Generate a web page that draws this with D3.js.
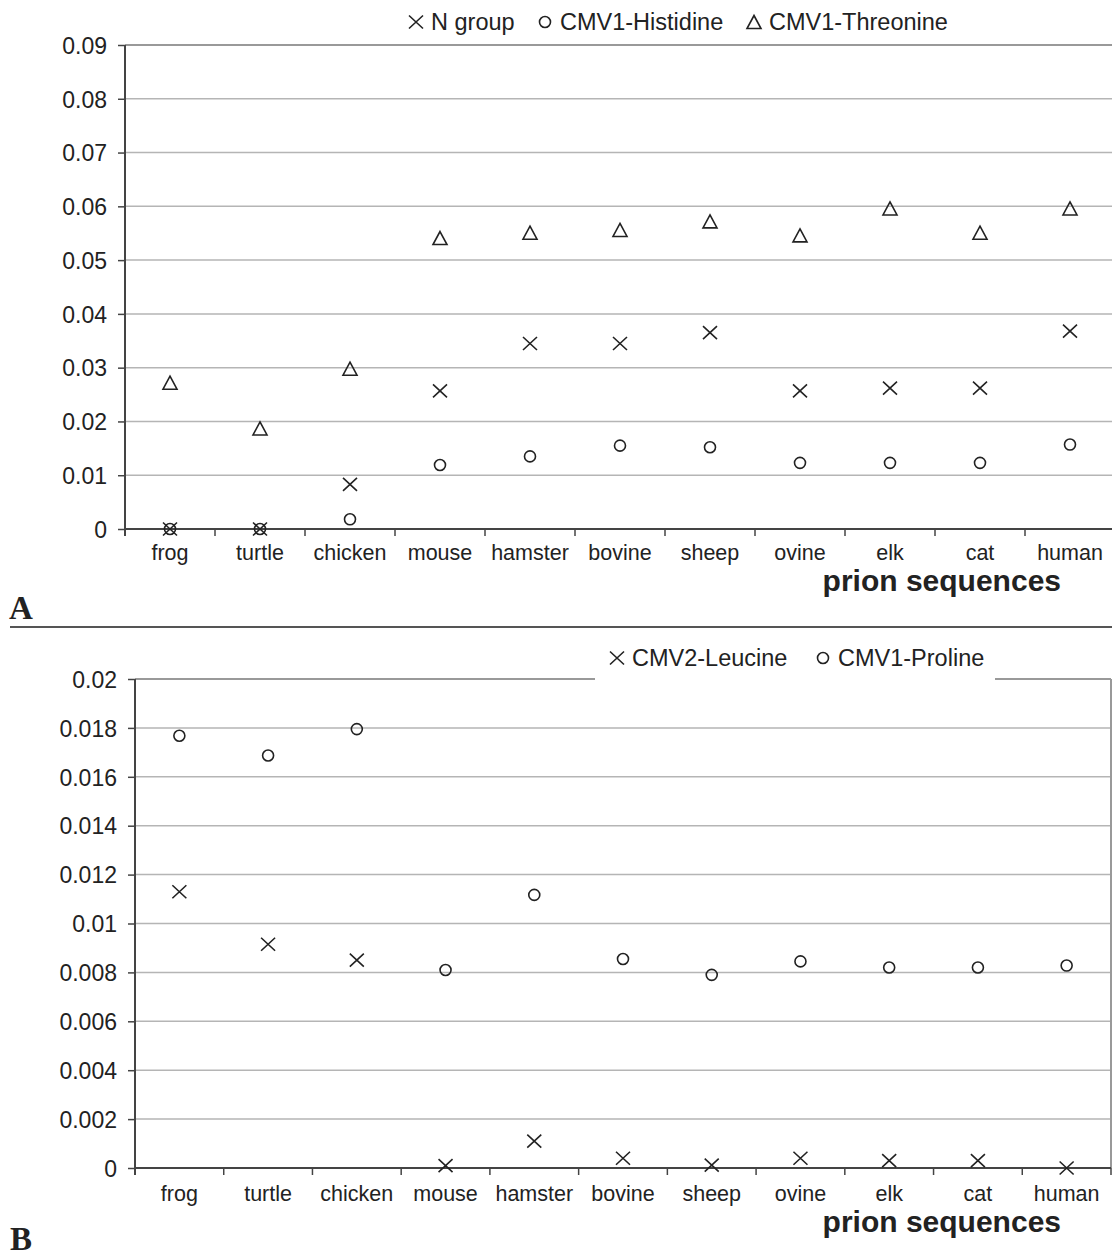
<!DOCTYPE html>
<html>
<head>
<meta charset="utf-8">
<script src="https://cdn.jsdelivr.net/npm/d3@7"></script>
<style>
  body { margin: 0; background: #fff; }
  svg { display: block; font-family: "Liberation Sans", Arial, sans-serif; }
</style>
</head>
<body>
<div id="chart"></div>
<script>
// categories shared by both panels
const species = ["frog", "turtle", "chicken", "mouse", "hamster", "bovine", "sheep", "ovine", "elk", "cat", "human"];

// panel A
const nGroup      = [0, 0, 0.0083, 0.0257, 0.0345, 0.0345, 0.0365, 0.0257, 0.0262, 0.0262, 0.0368];
const cmv1His     = [0, 0, 0.0018, 0.0119, 0.0135, 0.0155, 0.0152, 0.0123, 0.0123, 0.0123, 0.0157];
const cmv1Thr     = [0.0272, 0.0187, 0.0298, 0.0541, 0.0551, 0.0556, 0.0572, 0.0546, 0.0596, 0.0551, 0.0596];
const yTicksA     = [0, 0.01, 0.02, 0.03, 0.04, 0.05, 0.06, 0.07, 0.08, 0.09];

// panel B
const cmv2Leu     = [0.0113, 0.00915, 0.0085, 0.0001, 0.0011, 0.0004, 0.00012, 0.0004, 0.0003, 0.0003, 0];
const cmv1Pro     = [0.01768, 0.01687, 0.01795, 0.0081, 0.01117, 0.00855, 0.0079, 0.00845, 0.0082, 0.0082, 0.00828];
const yTicksB     = [0, 0.002, 0.004, 0.006, 0.008, 0.01, 0.012, 0.014, 0.016, 0.018, 0.02];

const W = 1112, H = 1258;
const ink = "#222";

const svg = d3.select("#chart").append("svg")
  .attr("width", W).attr("height", H);

// marker paths
const shapes = {
  cross: "M-7,-6.5L7,6.5M-7,6.5L7,-6.5",
  circle: d3.symbol(d3.symbolCircle, Math.PI * 5.5 * 5.5)(),
  triangle: "M0,-6.5L7,6.5L-7,6.5Z"
};

function drawPanel(opt) {
  const g = svg.append("g");
  const x = d3.scaleBand().domain(species).range([opt.left, opt.right]);
  const y = d3.scaleLinear().domain([0, opt.max]).range([opt.bottom, opt.top]);

  // gridlines
  g.selectAll("line.grid")
    .data(opt.ticks.filter(t => t > 0))
    .join("line")
      .attr("x1", opt.left).attr("x2", opt.right)
      .attr("y1", d => y(d)).attr("y2", d => y(d))
      .attr("stroke", d => d === opt.max ? "#999" : "#b5b5b5")
      .attr("stroke-width", d => d === opt.max ? 2 : 1.5);

  // right border
  g.append("line")
    .attr("x1", opt.right).attr("x2", opt.right)
    .attr("y1", opt.top).attr("y2", opt.bottom)
    .attr("stroke", "#999").attr("stroke-width", 2);

  // y axis
  const yAxis = g.append("g")
    .attr("transform", `translate(${opt.left},0)`)
    .call(d3.axisLeft(y).tickValues(opt.ticks).tickSize(7).tickPadding(11)
      .tickFormat(d => d === 0 ? "0" : d3.format(opt.fmt)(d)));
  yAxis.select(".domain").remove();
  yAxis.selectAll(".tick line").attr("stroke", "#444").attr("stroke-width", 1.5);
  yAxis.selectAll("text").attr("fill", ink).style("font-size", "23px").attr("dy", "0.36em");
  g.append("line")
    .attr("x1", opt.left).attr("x2", opt.left)
    .attr("y1", opt.top).attr("y2", opt.bottom + 7)
    .attr("stroke", "#444").attr("stroke-width", 2);

  // x axis
  const bounds = species.map(s => x(s)).concat([opt.right]);
  g.selectAll("line.xt")
    .data(bounds)
    .join("line")
      .attr("x1", d => d).attr("x2", d => d)
      .attr("y1", opt.bottom).attr("y2", opt.bottom + 7)
      .attr("stroke", "#444").attr("stroke-width", 1.5);
  g.append("line")
    .attr("x1", opt.left).attr("x2", opt.right)
    .attr("y1", opt.bottom).attr("y2", opt.bottom)
    .attr("stroke", "#444").attr("stroke-width", 2);

  g.selectAll("text.cat")
    .data(species)
    .join("text")
      .attr("x", d => x(d) + x.bandwidth() / 2)
      .attr("y", opt.bottom + opt.catDy)
      .attr("text-anchor", "middle")
      .attr("fill", ink)
      .style("font-size", "21.5px")
      .text(d => d);

  g.append("text")
    .attr("x", 1061).attr("y", opt.bottom + opt.catDy + 31)
    .attr("text-anchor", "end")
    .attr("fill", ink)
    .style("font-size", "30px").style("font-weight", "bold")
    .text("prion sequences");

  // series markers
  opt.series.forEach(s => {
    g.selectAll(null)
      .data(s.values)
      .join("path")
        .attr("transform", (d, i) => `translate(${x(species[i]) + x.bandwidth() / 2},${y(d)})`)
        .attr("d", shapes[s.shape])
        .attr("fill", "none")
        .attr("stroke", ink)
        .attr("stroke-width", 1.6);
  });

  // legend
  const lg = g.append("g");
  if (opt.legendBox) {
    lg.append("rect")
      .attr("x", opt.legendBox[0]).attr("y", opt.top - 40)
      .attr("width", opt.legendBox[1] - opt.legendBox[0]).attr("height", 41)
      .attr("fill", "#fff");
  }
  opt.series.forEach(s => {
    lg.append("path")
      .attr("transform", `translate(${s.lx},${opt.legendY - 8})`)
      .attr("d", shapes[s.shape])
      .attr("fill", "none").attr("stroke", ink).attr("stroke-width", 1.6);
    lg.append("text")
      .attr("x", s.lx + 15).attr("y", opt.legendY)
      .attr("fill", ink)
      .style("font-size", "23.5px")
      .text(s.name);
  });

  // panel letter
  svg.append("text")
    .attr("x", opt.letterX).attr("y", opt.letterY)
    .attr("fill", ink)
    .style("font-family", "'Liberation Serif', 'Times New Roman', serif")
    .style("font-size", "33px").style("font-weight", "bold")
    .text(opt.letter);
}

drawPanel({
  left: 125, right: 1115, top: 45, bottom: 529, max: 0.09, catDy: 31,
  ticks: yTicksA, fmt: ".2f", legendY: 30,
  series: [
    { name: "N group", values: nGroup, shape: "cross", lx: 416 },
    { name: "CMV1-Histidine", values: cmv1His, shape: "circle", lx: 545 },
    { name: "CMV1-Threonine", values: cmv1Thr, shape: "triangle", lx: 754 }
  ],
  letter: "A", letterX: 9, letterY: 619
});

// separator between the panels
svg.append("line")
  .attr("x1", 10).attr("x2", W).attr("y1", 627).attr("y2", 627)
  .attr("stroke", "#555").attr("stroke-width", 2);

drawPanel({
  left: 135, right: 1111, top: 679, bottom: 1168, max: 0.02, catDy: 33,
  ticks: yTicksB, fmt: ".3~f", legendY: 666, legendBox: [595, 995],
  series: [
    { name: "CMV2-Leucine", values: cmv2Leu, shape: "cross", lx: 617 },
    { name: "CMV1-Proline", values: cmv1Pro, shape: "circle", lx: 823 }
  ],
  letter: "B", letterX: 10, letterY: 1250
});
</script>
</body>
</html>
